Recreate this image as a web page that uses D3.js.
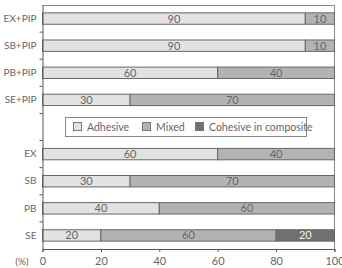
<!DOCTYPE html>
<html>
<head>
<meta charset="utf-8">
<script src="https://cdn.jsdelivr.net/npm/d3@7"></script>
<style>
body { margin: 0; background: #fff; }
svg text { font-family: "Lato", "DejaVu Sans", sans-serif; fill: #666; }
</style>
</head>
<body>
<div id="chart"></div>
<script>
// ===== data =====
var groups = ["EX+PIP", "SB+PIP", "PB+PIP", "SE+PIP", "", "EX", "SB", "PB", "SE"]
var adhesive = [90, 90, 60, 30, null, 60, 30, 40, 20]
var mixed = [10, 10, 40, 70, null, 40, 70, 60, 60]
var cohesive = [0, 0, 0, 0, null, 0, 0, 0, 20]
var seriesNames = ["Adhesive", "Mixed", "Cohesive in composite"]
var xTicks = [0, 20, 40, 60, 80, 100]

var colors = ["#e2e2e2", "#b3b3b3", "#707070"]

var width = 342, height = 268
var mLeft = 42.5, mRight = 334.5, mTop = 5, mBottom = 249

var svg = d3.select("#chart")
    .append("svg")
    .attr("width", width)
    .attr("height", height)

var x = d3.scaleLinear().domain([0, 100]).range([mLeft, mRight])
var y = d3.scaleBand().domain(groups).range([mTop, mBottom]).paddingInner(0.58).paddingOuter(0.29)

// frame on top and right
svg.append("path")
    .attr("d", "M" + mLeft + "," + (mTop + 0.5) + "H" + mRight + "V" + mBottom)
    .attr("fill", "none")
    .attr("stroke", "#888")
    .attr("stroke-width", 1)

// build stacked rows
var rows = []
groups.forEach(function(g, i){
    if (adhesive[i] === null) return
    var vals = [adhesive[i], mixed[i], cohesive[i]]
    var start = 0
    vals.forEach(function(v, k){
        if (v > 0) rows.push({group: g, key: k, x0: start, x1: start + v, value: v})
        start += v
    })
})

svg.selectAll("rect.bar")
    .data(rows)
    .enter()
    .append("rect")
    .attr("class", "bar")
    .attr("x", function(d){ return x(d.x0) })
    .attr("width", function(d){ return x(d.x1) - x(d.x0) })
    .attr("y", function(d){ return y(d.group) })
    .attr("height", y.bandwidth())
    .attr("fill", function(d){ return colors[d.key] })
    .attr("stroke", "#666")
    .attr("stroke-width", 1)

svg.selectAll("text.val")
    .data(rows)
    .enter()
    .append("text")
    .attr("class", "val")
    .attr("x", function(d){ return (x(d.x0) + x(d.x1)) / 2 })
    .attr("y", function(d){ return y(d.group) + y.bandwidth() / 2 + 4 })
    .attr("text-anchor", "middle")
    .attr("font-size", "11px")
    .style("fill", function(d){ return d.key == 2 ? "#eee" : "#666" })
    .text(function(d){ return d.value })

// left axis
var yAxis = svg.append("g")
    .attr("transform", "translate(" + mLeft + ",0)")
    .call(d3.axisLeft(y).tickSize(0).tickPadding(6))
yAxis.select(".domain").attr("stroke", "#555")
yAxis.selectAll("text").attr("font-size", "10px").style("fill", "#666")

// small ticks between groups
var bounds = groups.slice(1).map(function(g){ return y(g) - y.step() * y.paddingInner() / 2 })
svg.selectAll("line.sep")
    .data(bounds)
    .enter()
    .append("line")
    .attr("x1", mLeft - 3)
    .attr("x2", mLeft)
    .attr("y1", function(d){ return d })
    .attr("y2", function(d){ return d })
    .attr("stroke", "#555")

// bottom axis
var xAxis = svg.append("g")
    .attr("transform", "translate(0," + mBottom + ")")
    .call(d3.axisBottom(x).tickValues(xTicks).tickSize(3).tickPadding(5))
xAxis.select(".domain").attr("stroke", "#555")
xAxis.selectAll("line").attr("stroke", "#555")
xAxis.selectAll("text").attr("font-size", "11px").style("fill", "#666")

svg.append("text")
    .attr("x", 22)
    .attr("y", 265)
    .attr("text-anchor", "middle")
    .attr("font-size", "10px")
    .text("(%)")

// legend
var legend = svg.append("g")
legend.append("rect")
    .attr("x", 65.5)
    .attr("y", 117.5)
    .attr("width", 241)
    .attr("height", 19)
    .attr("fill", "#fff")
    .attr("stroke", "#888")

var legendX = [73, 142, 195]
seriesNames.forEach(function(name, i){
    legend.append("rect")
        .attr("x", legendX[i] + 0.5)
        .attr("y", 122.5)
        .attr("width", 8)
        .attr("height", 8)
        .attr("fill", colors[i])
        .attr("stroke", "#777")
    legend.append("text")
        .attr("x", legendX[i] + 14)
        .attr("y", 130.5)
        .attr("font-size", "10.5px")
        .text(name)
})
</script>
</body>
</html>
